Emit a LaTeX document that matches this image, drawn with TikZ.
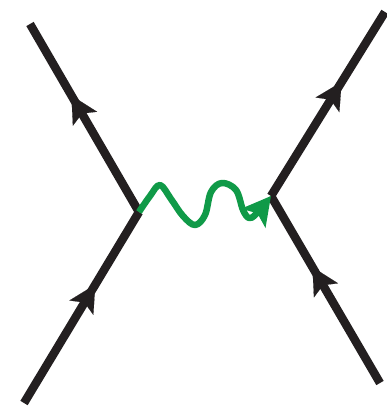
\documentclass[tikz,border=0pt]{standalone}
\usetikzlibrary{arrows.meta,decorations.markings}
\definecolor{fermionblk}{RGB}{35,31,32}
\definecolor{photongreen}{RGB}{16,154,72}

\begin{document}
\begin{tikzpicture}[x=1pt,y=-1pt,
  >={Stealth[length=27pt,width=28pt,inset=6pt]},
  fermion/.style={draw=fermionblk,line width=8.5pt,postaction={decorate},
    decoration={markings,mark=at position #1 with {\arrow[fermionblk,line width=0.1pt]{>}}}},
  fermion/.default=0.62,
  photon/.style={draw=photongreen,line width=6.5pt,line join=round}]
\useasboundingbox (0,0) rectangle (387,406);
\coordinate (vL) at (139,212);
\coordinate (vR) at (271,196);
\coordinate (inL) at (24,403);
\coordinate (outL) at (30,24);
\coordinate (inR) at (380,383);
\coordinate (outR) at (385,12);
% electron lines
\draw[fermion] (inL) -- (vL);
\draw[fermion] (vL) -- (outL);
\draw[fermion] (inR) -- (vR);
\draw[fermion] (vR) -- (outR);
% exchanged photon
\draw[photon,-{Stealth[length=28pt,width=30pt,inset=6pt]}] plot[smooth,tension=0.6] coordinates {(vL) (150,196) (160,185) (171,199) (183,216) (195,225) (205,215) (211,192) (222,183) (236,190) (243,210) (249,218) (256,214) (vR)};
\end{tikzpicture}
\end{document}
